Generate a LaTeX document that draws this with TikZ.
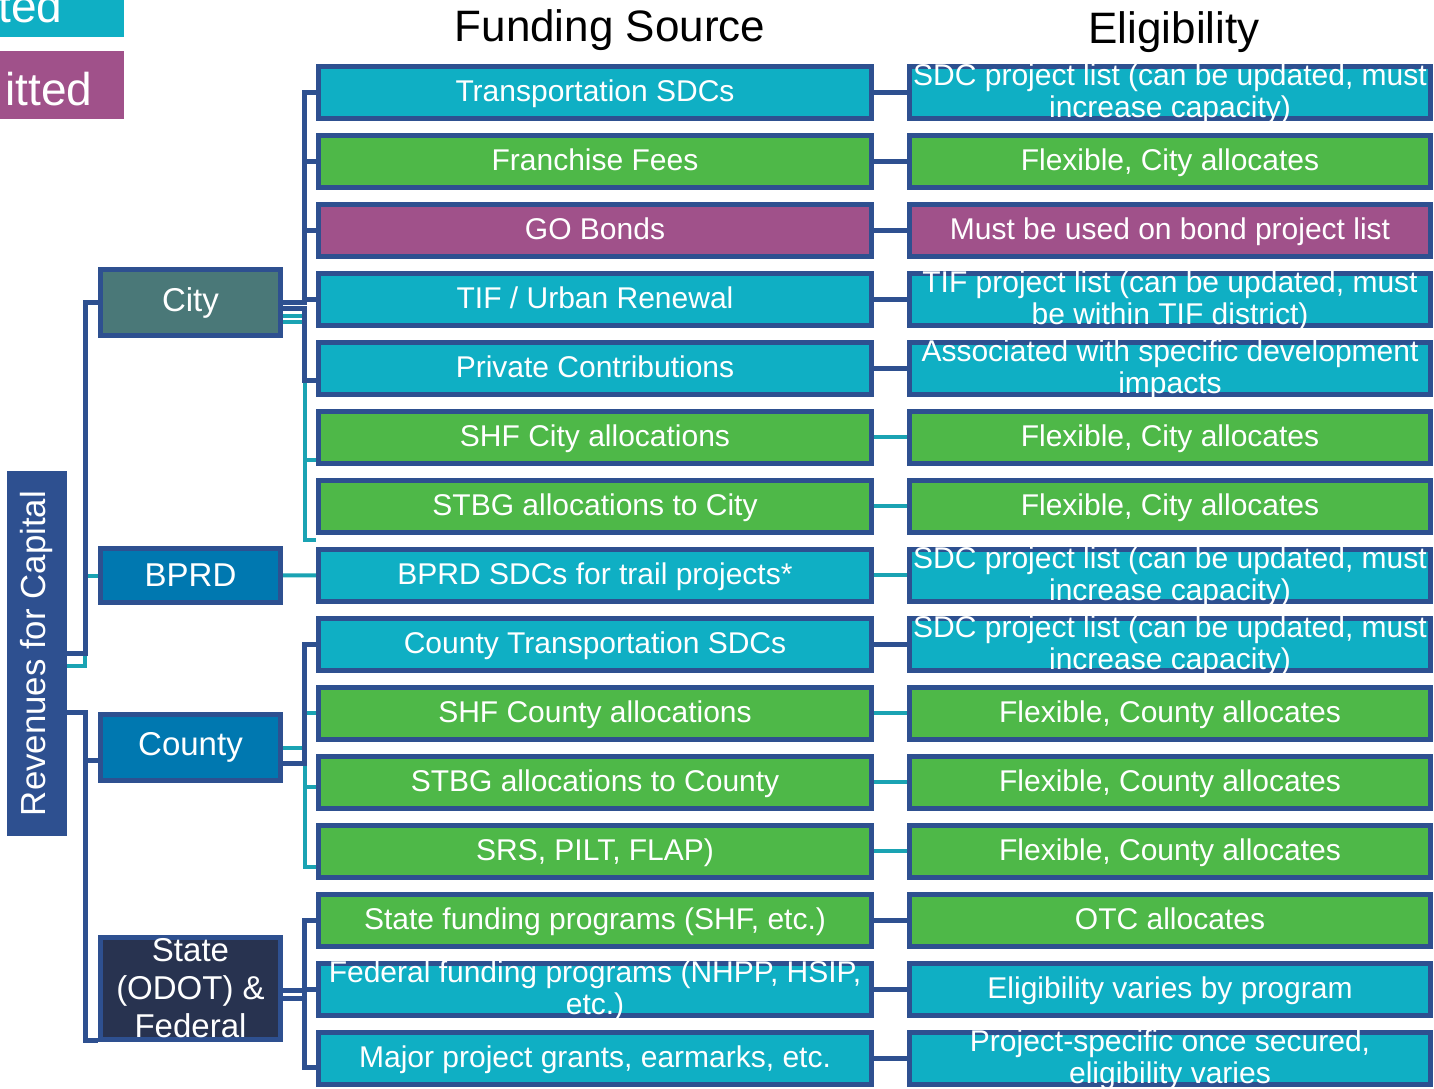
\documentclass[tikz,border=0pt]{standalone}
\usepackage{fontspec}
\setmainfont{Liberation Sans}
\usetikzlibrary{backgrounds}
\definecolor{fteal}{HTML}{0FAFC4}
\definecolor{fgreen}{HTML}{4EB848}
\definecolor{fpurple}{HTML}{A0518A}
\definecolor{bord}{HTML}{2E5090}
\definecolor{lteal}{HTML}{1AA3B3}
\definecolor{cityfill}{HTML}{4A7878}
\definecolor{cofill}{HTML}{0078B0}
\definecolor{stfill}{HTML}{283350}
\tikzset{
  box/.style={draw=bord,line width=2.5pt,inner sep=0pt},
  mbox/.style={box,minimum width=276.5pt,minimum height=26pt},
  ebox/.style={box,minimum width=260.5pt,minimum height=26pt},
  pbox/.style={box,minimum width=90pt,text=white,font=\fontsize{16.5}{19}\selectfont,align=center},
  btext/.style={text=white,font=\fontsize{15}{16}\selectfont,align=center,inner sep=0pt,
    execute at begin node=\strut,execute at end node=\strut,yshift=-1.6pt},
  cblue/.style={draw=bord,line width=2.5pt},
  cteal/.style={draw=lteal,line width=2pt},
}
\begin{document}
\begin{tikzpicture}[x=0.5pt,y=-0.5pt]
    \useasboundingbox (0,0) rectangle (1434,1088);
    \fill[fteal] (0,0) rectangle (124,37);
    \fill[fpurple] (0,51) rectangle (124,119);
    \node[anchor=base west,inner sep=0pt,text=white,font=\fontsize{23}{25}\selectfont] (lg1) at (-2,22) {ted};
    \node[anchor=base west,inner sep=0pt,text=white,font=\fontsize{23}{25}\selectfont] (lg2) at (5,105) {itted};
    \node[font=\fontsize{22}{24}\selectfont] (fs) at (610,30) {Funding Source};
    \node[font=\fontsize{22}{24}\selectfont] (el) at (1174,32) {Eligibility};
    \node[fill=bord,minimum width=30pt,minimum height=182.5pt,text=white,font=\fontsize{17.4}{19}\selectfont] (rev) at (37,653.5) {\rotatebox{90}{Revenues for Capital}};
    \node[pbox,fill=cityfill,minimum height=33pt] (city) at (190.5,302.5) {City};
    \node[pbox,fill=cofill,minimum height=27pt] (bprd) at (190.5,575.5) {BPRD};
    \node[pbox,fill=cofill,minimum height=33pt] (county) at (190.5,747.5) {County};
    \node[pbox,fill=stfill,minimum height=51pt] (state) at (190.5,988.5) {};
    \node[pbox,draw=none,fill=none] (statet) at (state) {State\\(ODOT) \&\\Federal};
    \foreach \i/\c/\m/\e in {
        1/fteal/{Transportation SDCs}/{SDC project list (can be updated, must\\increase capacity)},
        2/fgreen/{Franchise Fees}/{Flexible, City allocates},
        3/fpurple/{GO Bonds}/{Must be used on bond project list},
        4/fteal/{TIF / Urban Renewal}/{TIF project list (can be updated, must\\be within TIF district)},
        5/fteal/{Private Contributions}/{Associated with specific development\\impacts},
        6/fgreen/{SHF City allocations}/{Flexible, City allocates},
        7/fgreen/{STBG allocations to City}/{Flexible, City allocates},
        8/fteal/{BPRD SDCs for trail projects*}/{SDC project list (can be updated, must\\increase capacity)},
        9/fteal/{County Transportation SDCs}/{SDC project list (can be updated, must\\increase capacity)},
        10/fgreen/{SHF County allocations}/{Flexible, County allocates},
        11/fgreen/{STBG allocations to County}/{Flexible, County allocates},
        12/fgreen/{SRS, PILT, FLAP)}/{Flexible, County allocates},
        13/fgreen/{State funding programs (SHF, etc.)}/{OTC allocates},
        14/fteal/{Federal funding programs (NHPP, HSIP,\\etc.)}/{Eligibility varies by program},
        15/fteal/{Major project grants, earmarks, etc.}/{Project-specific once secured,\\eligibility varies}} {
        \node[mbox,fill=\c] (m\i) at (595,{23+69*\i}) {};
        \node[btext] (mt\i) at (m\i) {\m};
        \node[ebox,fill=\c] (e\i) at (1170,{23+69*\i}) {};
        \node[btext] (et\i) at (e\i) {\e};
      }
    \begin{scope}[on background layer]
      \foreach \i/\k in {1/cblue,2/cblue,3/cblue,4/cblue,5/cblue,6/cteal,7/cteal,8/cteal,
          9/cblue,10/cteal,11/cteal,12/cteal,13/cblue,14/cblue,15/cblue}
        \draw[\k] (m\i) -- (e\i);
      \draw[cteal] ([yshift=-6pt]rev.east) -- ++(18,0) |- (bprd.west);
      \draw[cblue] (rev.east) -- ++(18,0) |- (city.west);
      \draw[cblue] ([yshift=-29.5pt]rev.east) -- ++(18,0) |- ([yshift=-6.5pt]county.west);
      \draw[cblue] ([yshift=-29.5pt]rev.east) -- ++(18,0) |- ([yshift=-26pt]state.west);
      \foreach \i/\s/\t/\k in {6/-6.5/-11.5/cteal,7/-9.5/-17/cteal,1/0/0/cblue,2/0/0/cblue,
          3/0/0/cblue,4/0/0/cblue,5/-3/-6/cblue}
        \draw[\k] ([yshift=\s pt]city.east) -- ++(21.5,0) |- ([yshift=\t pt]m\i.west);
      \draw[cteal] (bprd) -- (m8);
      \foreach \i/\s/\t/\k in {10/0/0/cteal,11/0/-2.5/cteal,12/0/-8/cteal,9/-8/0/cblue}
        \draw[\k] ([yshift=\s pt]county.east) -- ++(21.5,0) |- ([yshift=\t pt]m\i.west);
      \foreach \i/\s/\t in {13/-1/0,14/-5/0,15/-5/-4.5}
        \draw[cblue] ([yshift=\s pt]state.east) -- ++(21.5,0) |- ([yshift=\t pt]m\i.west);
    \end{scope}
  \end{tikzpicture}
\end{document}
